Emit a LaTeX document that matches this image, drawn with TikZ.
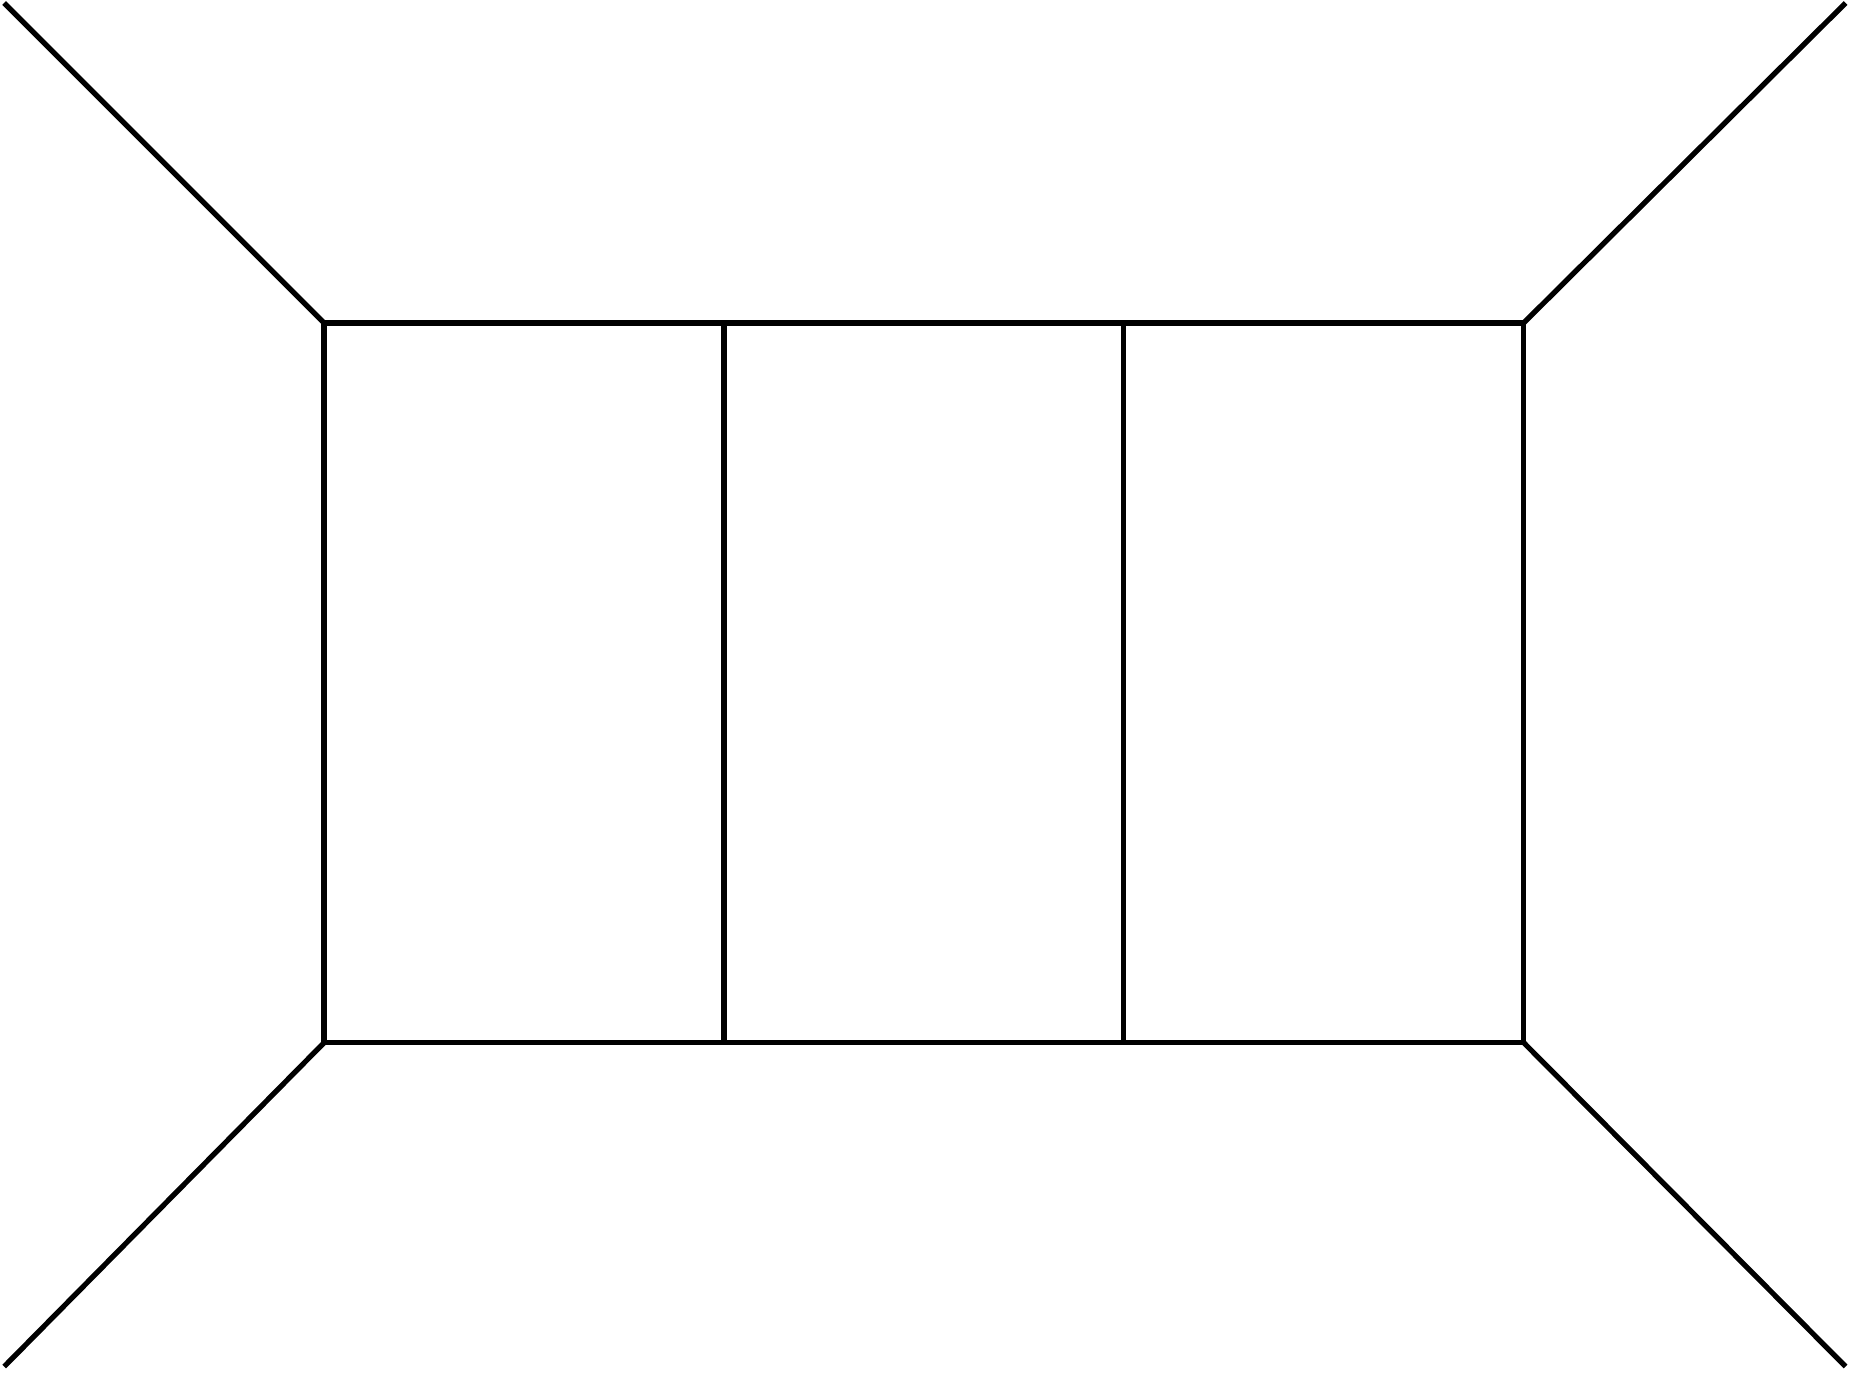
\documentclass[tikz,border=0pt]{standalone}
\usepackage{amsmath, amssymb}
\usepackage{tikz}
\usetikzlibrary{calc}
\def\drawprop{\draw[color=black, line width=0.75pt]}
\begin{document}
\begin{tikzpicture}[scale=1,auto,inner sep=1mm]
\useasboundingbox (-1.621,-1.657) rectangle (7.657,5.215);
\coordinate (b1) at (0,0);
\coordinate (b2) at (2,0);
\coordinate (b3) at (4,0);
\coordinate (b4) at (6,0);
\coordinate (t1) at (0,3.6);
\coordinate (t2) at (2,3.6);
\coordinate (t3) at (4,3.6);
\coordinate (t4) at (6,3.6);
\coordinate (p1) at (-1.6,-1.62);
\coordinate (p2) at (-1.6,5.2);
\coordinate (p3) at (7.61,5.2);
\coordinate (p4) at (7.61,-1.62);
\drawprop (b1) -- (b4) -- (t4) -- (t1) -- cycle;
\drawprop (b2) -- (t2);
\drawprop (b3) -- (t3);
\drawprop (p1) -- (b1);
\drawprop (p2) -- (t1);
\drawprop (p3) -- (t4);
\drawprop (p4) -- (b4);
\end{tikzpicture}
\end{document}
